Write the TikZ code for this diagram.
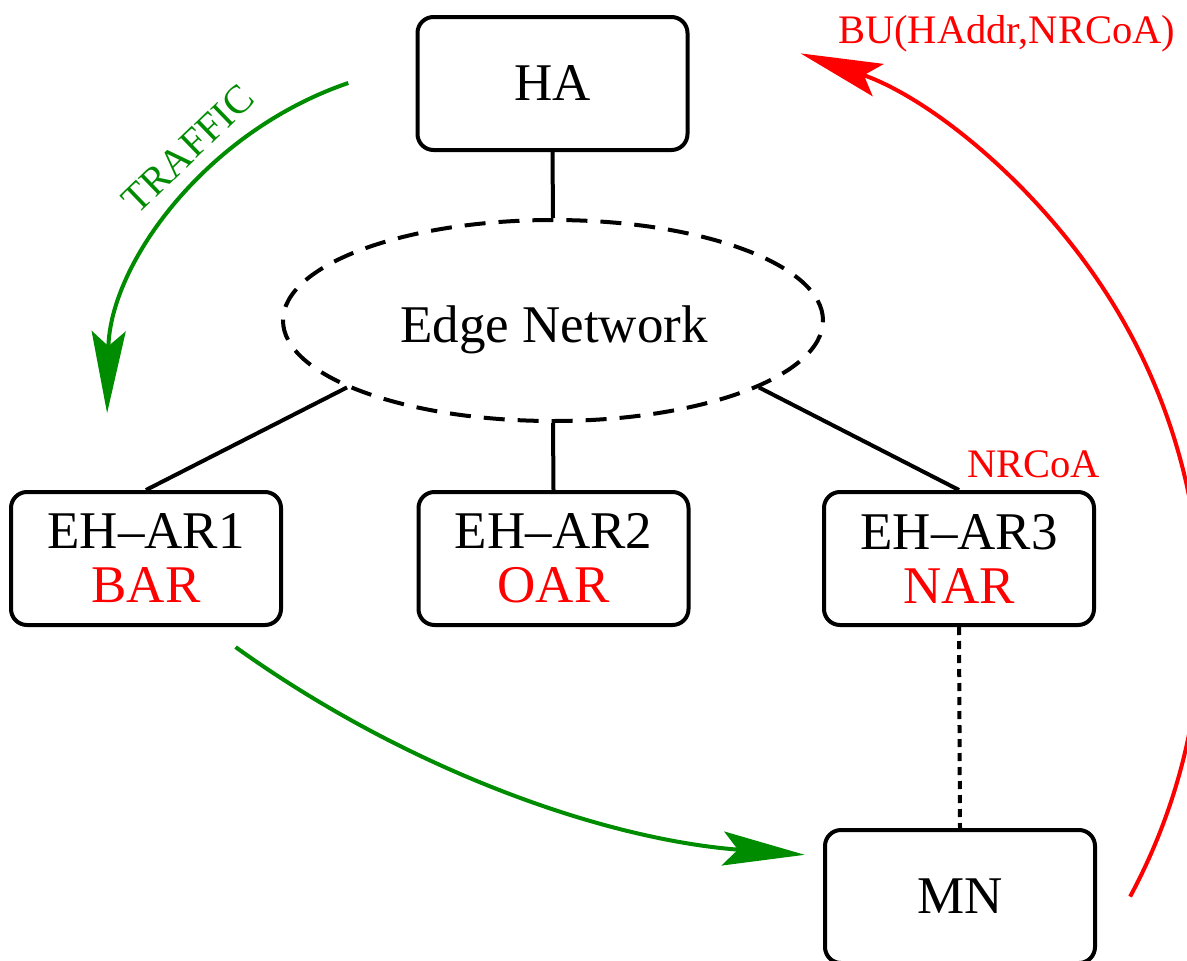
\documentclass[tikz,border=0pt]{standalone}
\usepackage{fontspec}
\setmainfont{Liberation Serif}
\usetikzlibrary{arrows.meta,shapes.geometric}
\definecolor{tgreen}{RGB}{0,140,0}
\definecolor{tred}{RGB}{255,0,0}
\begin{document}
\begin{tikzpicture}[x=1pt,y=1pt,
  box/.style={draw, line width=4pt, rounded corners=16pt, minimum width=270pt,
    minimum height=133pt, inner sep=0pt, align=center,
    font=\fontsize{53pt}{54pt}\selectfont},
  cloud/.style={draw, ellipse, line width=4pt, dash pattern=on 21pt off 13pt,
    minimum width=540pt, minimum height=201pt, inner sep=0pt},
  maintext/.style={font=\fontsize{53pt}{54pt}\selectfont, inner sep=0pt},
  link/.style={line width=4pt},
  dotlink/.style={line width=4pt, dash pattern=on 8pt off 6pt},
  flow/.style={line width=4pt, -{Stealth[length=82pt, width=34pt, inset=15pt]}},
  lbl/.style={font=\fontsize{40.5pt}{48pt}\selectfont, text=tred, inner sep=0pt}]
\useasboundingbox (0,0) rectangle (1187,-961);
\clip (0,0) rectangle (1187,-961);
\fill[white] (0,0) rectangle (1187,-961);

\node[box] (ha) at (552.5,-83.5) {HA};
\node[cloud] (ell) at (553,-320.5) {};
\node[maintext, anchor=base] (edge) at (554,-342) {Edge Network};
\node[box] (b1) at (146,-558.5) {EH--AR1\\\textcolor{tred}{BAR}};
\node[box] (b2) at (553.5,-558.5) {EH--AR2\\\textcolor{tred}{OAR}};
\node[box] (b3) at (959,-558.5) {EH--AR3\\\textcolor{tred}{NAR}};
\node[box] (mn) at (960,-896.5) {MN};

\draw[link] (ha.south) -- (ell.north);
\draw[link] (ell.198) -- (b1.north);
\draw[link] (ell.south) -- (b2.north);
\draw[link] (ell.342) -- (b3.north);
\draw[dotlink] (b3.south) -- (mn.north);

\node[lbl, anchor=base west] (nrcoa) at (967,-477) {NRCoA};
\node[lbl, anchor=base west] (bu) at (838,-43) {BU(HAddr,NRCoA)};

\coordinate (gs) at (348.3,-83);
\draw[flow, tgreen] (gs) arc[start angle=108.8, end angle=178.9, radius=356pt];
\node[font=\fontsize{40pt}{44pt}\selectfont, text=tgreen, rotate=44, inner sep=0pt] (traffic) at (188,-149) {TRAFFIC};

\coordinate (g2) at (235.6,-647.1);
\draw[flow, tgreen] (g2) arc[start angle=234.3, end angle=265.6, radius=1123pt];

\coordinate (rs) at (1130.1,-896.6);
\draw[flow, tred] (rs) arc[start angle=-28.3, end angle=71, radius=594pt];
\end{tikzpicture}
\end{document}
